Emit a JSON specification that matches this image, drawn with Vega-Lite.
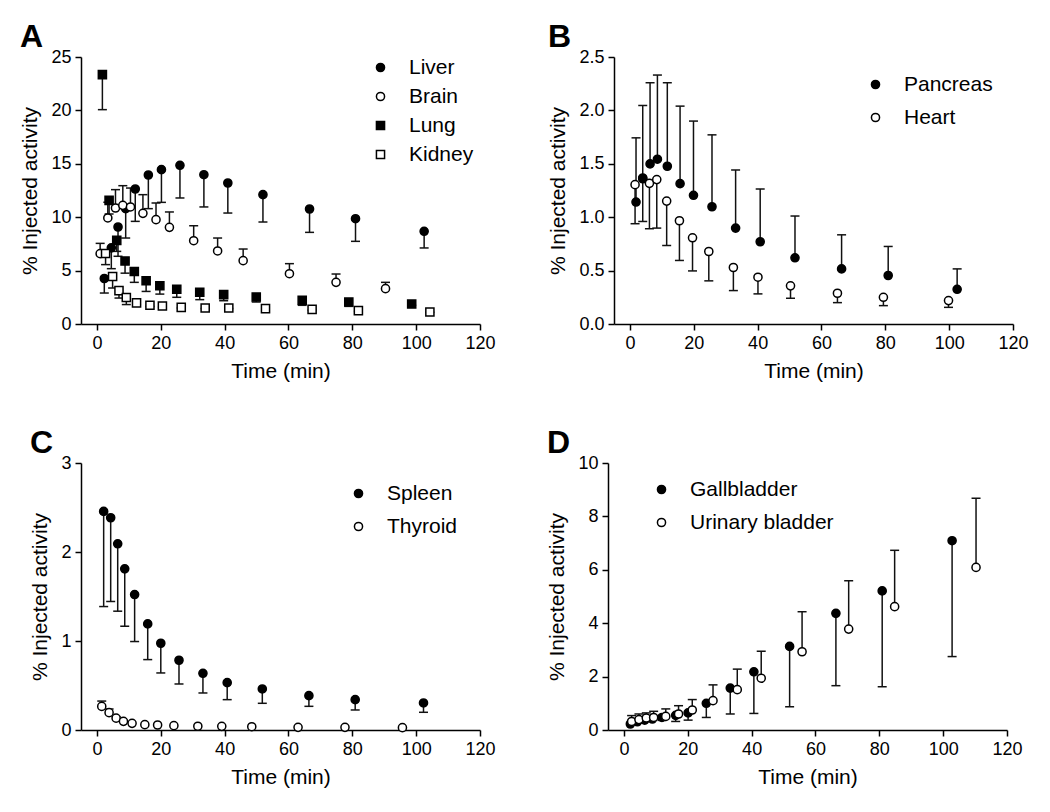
{
  "$schema": "https://vega.github.io/schema/vega-lite/v6.json",
  "background": "white",
  "padding": {"left": 19, "top": 21, "right": 5, "bottom": 5},
  "config": {
    "font": "Liberation Sans",
    "view": {"stroke": null},
    "axis": {
      "grid": false, "domainColor": "black", "domainWidth": 1.5, "tickColor": "black", "tickWidth": 1.5, "tickSize": 6,
      "labelFontSize": 18, "labelColor": "black", "labelPadding": 4, "labelFlush": false, "titleFontSize": 21, "titleFontWeight": "normal",
      "titleColor": "black", "titlePadding": 8
    },
    "axisY": {"titlePadding": 10},
    "title": {"fontSize": 32, "fontWeight": "bold", "color": "black", "anchor": "start", "frame": "bounds", "offset": -6},
    "legend": {"labelFontSize": 21, "labelColor": "black", "symbolSize": 66, "symbolStrokeWidth": 1.5, "labelOffset": 18}
  },
  "resolve": {"scale": {"shape": "independent", "fill": "independent", "stroke": "independent"}, "legend": {"shape": "independent", "fill": "independent", "stroke": "independent"}},
  "datasets": {
    "A": [
      {"organ": "Liver", "t": 2.3, "v": 4.26, "e": 2.9},
      {"organ": "Liver", "t": 4.5, "v": 7.13, "e": 5.18},
      {"organ": "Liver", "t": 6.6, "v": 9.08, "e": 6.34},
      {"organ": "Liver", "t": 9.0, "v": 10.8, "e": 8.05},
      {"organ": "Liver", "t": 12.0, "v": 12.64, "e": 9.61},
      {"organ": "Liver", "t": 16.1, "v": 13.95, "e": 10.8},
      {"organ": "Liver", "t": 20.2, "v": 14.45, "e": 11.39},
      {"organ": "Liver", "t": 26.0, "v": 14.86, "e": 11.8},
      {"organ": "Liver", "t": 33.5, "v": 13.98, "e": 10.96},
      {"organ": "Liver", "t": 41.0, "v": 13.2, "e": 10.39},
      {"organ": "Liver", "t": 52.0, "v": 12.11, "e": 9.55},
      {"organ": "Liver", "t": 66.6, "v": 10.77, "e": 8.58},
      {"organ": "Liver", "t": 81.0, "v": 9.86, "e": 7.74},
      {"organ": "Liver", "t": 102.5, "v": 8.68, "e": 7.12},
      {"organ": "Brain", "t": 1.0, "v": 6.59, "e": 7.55},
      {"organ": "Brain", "t": 3.4, "v": 9.93, "e": 11.4},
      {"organ": "Brain", "t": 5.8, "v": 10.86, "e": 12.58},
      {"organ": "Brain", "t": 8.1, "v": 11.11, "e": 12.95},
      {"organ": "Brain", "t": 10.5, "v": 10.96, "e": 12.73},
      {"organ": "Brain", "t": 14.4, "v": 10.36, "e": 12.11},
      {"organ": "Brain", "t": 18.5, "v": 9.77, "e": 11.33},
      {"organ": "Brain", "t": 22.7, "v": 9.05, "e": 10.49},
      {"organ": "Brain", "t": 30.3, "v": 7.8, "e": 9.2},
      {"organ": "Brain", "t": 37.8, "v": 6.84, "e": 8.05},
      {"organ": "Brain", "t": 45.8, "v": 5.93, "e": 7.02},
      {"organ": "Brain", "t": 60.3, "v": 4.71, "e": 5.65},
      {"organ": "Brain", "t": 74.9, "v": 3.9, "e": 4.68},
      {"organ": "Brain", "t": 90.4, "v": 3.31, "e": 3.9},
      {"organ": "Lung", "t": 1.7, "v": 23.35, "e": 20.07},
      {"organ": "Lung", "t": 3.8, "v": 11.58, "e": 10.3},
      {"organ": "Lung", "t": 6.2, "v": 7.83, "e": 6.8},
      {"organ": "Lung", "t": 8.8, "v": 5.9, "e": 4.76},
      {"organ": "Lung", "t": 11.7, "v": 4.92, "e": 3.9},
      {"organ": "Lung", "t": 15.4, "v": 4.05, "e": 3.05},
      {"organ": "Lung", "t": 19.7, "v": 3.58, "e": 2.8},
      {"organ": "Lung", "t": 25.0, "v": 3.25, "e": 2.5},
      {"organ": "Lung", "t": 32.2, "v": 2.97, "e": 2.28},
      {"organ": "Lung", "t": 39.7, "v": 2.75, "e": 2.18},
      {"organ": "Lung", "t": 49.9, "v": 2.53, "e": 2.06},
      {"organ": "Lung", "t": 64.3, "v": 2.22, "e": 1.75},
      {"organ": "Lung", "t": 78.9, "v": 2.06, "e": 1.65},
      {"organ": "Lung", "t": 98.6, "v": 1.87, "e": 1.75},
      {"organ": "Kidney", "t": 2.7, "v": 6.6, "e": 5.56},
      {"organ": "Kidney", "t": 4.9, "v": 4.45, "e": 3.37},
      {"organ": "Kidney", "t": 6.9, "v": 3.12, "e": 2.43},
      {"organ": "Kidney", "t": 9.2, "v": 2.48, "e": 1.82},
      {"organ": "Kidney", "t": 12.4, "v": 1.98, "e": 1.8},
      {"organ": "Kidney", "t": 16.6, "v": 1.76, "e": 1.65},
      {"organ": "Kidney", "t": 20.5, "v": 1.68, "e": 1.58},
      {"organ": "Kidney", "t": 26.4, "v": 1.56, "e": 1.5},
      {"organ": "Kidney", "t": 33.9, "v": 1.5, "e": 1.45},
      {"organ": "Kidney", "t": 41.3, "v": 1.5, "e": 1.45},
      {"organ": "Kidney", "t": 52.8, "v": 1.44, "e": 1.4},
      {"organ": "Kidney", "t": 67.4, "v": 1.37, "e": 1.3},
      {"organ": "Kidney", "t": 81.9, "v": 1.25, "e": 1.2},
      {"organ": "Kidney", "t": 104.3, "v": 1.12, "e": 1.1}
    ],
    "B": [
      {"organ": "Heart", "t": 1.6, "v": 1.305, "e": 0.939},
      {"organ": "Heart", "t": 4.0, "v": 1.36, "e": 0.96},
      {"organ": "Heart", "t": 6.1, "v": 1.317, "e": 0.892},
      {"organ": "Heart", "t": 8.4, "v": 1.352, "e": 0.898},
      {"organ": "Heart", "t": 11.5, "v": 1.151, "e": 0.735},
      {"organ": "Heart", "t": 15.5, "v": 0.967, "e": 0.595},
      {"organ": "Heart", "t": 19.6, "v": 0.807, "e": 0.497},
      {"organ": "Heart", "t": 24.7, "v": 0.679, "e": 0.404},
      {"organ": "Heart", "t": 32.4, "v": 0.529, "e": 0.313},
      {"organ": "Heart", "t": 40.1, "v": 0.438, "e": 0.282},
      {"organ": "Heart", "t": 50.3, "v": 0.357, "e": 0.241},
      {"organ": "Heart", "t": 65.0, "v": 0.288, "e": 0.2},
      {"organ": "Heart", "t": 79.4, "v": 0.25, "e": 0.172},
      {"organ": "Heart", "t": 99.8, "v": 0.219, "e": 0.156},
      {"organ": "Pancreas", "t": 1.9, "v": 1.142, "e": 1.743},
      {"organ": "Pancreas", "t": 4.0, "v": 1.367, "e": 2.046},
      {"organ": "Pancreas", "t": 6.3, "v": 1.499, "e": 2.259},
      {"organ": "Pancreas", "t": 8.6, "v": 1.543, "e": 2.331},
      {"organ": "Pancreas", "t": 11.7, "v": 1.477, "e": 2.259},
      {"organ": "Pancreas", "t": 15.7, "v": 1.314, "e": 2.04},
      {"organ": "Pancreas", "t": 19.9, "v": 1.205, "e": 1.9},
      {"organ": "Pancreas", "t": 25.7, "v": 1.098, "e": 1.771},
      {"organ": "Pancreas", "t": 33.1, "v": 0.898, "e": 1.442},
      {"organ": "Pancreas", "t": 40.8, "v": 0.77, "e": 1.264},
      {"organ": "Pancreas", "t": 51.7, "v": 0.62, "e": 1.011},
      {"organ": "Pancreas", "t": 66.3, "v": 0.516, "e": 0.835},
      {"organ": "Pancreas", "t": 80.9, "v": 0.454, "e": 0.726},
      {"organ": "Pancreas", "t": 102.5, "v": 0.325, "e": 0.516}
    ],
    "C": [
      {"organ": "Spleen", "t": 2.1, "v": 2.456, "e": 1.387},
      {"organ": "Spleen", "t": 4.3, "v": 2.385, "e": 1.444},
      {"organ": "Spleen", "t": 6.5, "v": 2.092, "e": 1.335},
      {"organ": "Spleen", "t": 8.7, "v": 1.811, "e": 1.166},
      {"organ": "Spleen", "t": 11.8, "v": 1.522, "e": 0.994},
      {"organ": "Spleen", "t": 15.9, "v": 1.192, "e": 0.791},
      {"organ": "Spleen", "t": 20.0, "v": 0.975, "e": 0.641},
      {"organ": "Spleen", "t": 25.7, "v": 0.784, "e": 0.517},
      {"organ": "Spleen", "t": 33.2, "v": 0.637, "e": 0.416},
      {"organ": "Spleen", "t": 40.8, "v": 0.532, "e": 0.341},
      {"organ": "Spleen", "t": 51.8, "v": 0.461, "e": 0.3},
      {"organ": "Spleen", "t": 66.4, "v": 0.386, "e": 0.266},
      {"organ": "Spleen", "t": 80.9, "v": 0.341, "e": 0.225},
      {"organ": "Spleen", "t": 102.3, "v": 0.304, "e": 0.199},
      {"organ": "Thyroid", "t": 1.5, "v": 0.265, "e": 0.325},
      {"organ": "Thyroid", "t": 3.8, "v": 0.195, "e": 0.236},
      {"organ": "Thyroid", "t": 6.0, "v": 0.133, "e": 0.15},
      {"organ": "Thyroid", "t": 8.3, "v": 0.097, "e": 0.105},
      {"organ": "Thyroid", "t": 11.0, "v": 0.075, "e": null},
      {"organ": "Thyroid", "t": 15.0, "v": 0.06, "e": null},
      {"organ": "Thyroid", "t": 19.0, "v": 0.056, "e": null},
      {"organ": "Thyroid", "t": 24.1, "v": 0.049, "e": null},
      {"organ": "Thyroid", "t": 31.6, "v": 0.042, "e": null},
      {"organ": "Thyroid", "t": 39.1, "v": 0.041, "e": null},
      {"organ": "Thyroid", "t": 48.5, "v": 0.037, "e": null},
      {"organ": "Thyroid", "t": 63.0, "v": 0.03, "e": null},
      {"organ": "Thyroid", "t": 77.7, "v": 0.03, "e": null},
      {"organ": "Thyroid", "t": 95.7, "v": 0.026, "e": null}
    ],
    "D": [
      {"organ": "Gallbladder", "t": 2.0, "v": 0.225, "e": null},
      {"organ": "Gallbladder", "t": 4.2, "v": 0.31, "e": null},
      {"organ": "Gallbladder", "t": 6.5, "v": 0.37, "e": null},
      {"organ": "Gallbladder", "t": 8.9, "v": 0.41, "e": null},
      {"organ": "Gallbladder", "t": 11.9, "v": 0.47, "e": 0.36},
      {"organ": "Gallbladder", "t": 16.2, "v": 0.55, "e": 0.32},
      {"organ": "Gallbladder", "t": 20.1, "v": 0.64, "e": 0.37},
      {"organ": "Gallbladder", "t": 25.8, "v": 1.0, "e": 0.47},
      {"organ": "Gallbladder", "t": 33.3, "v": 1.57, "e": 0.6},
      {"organ": "Gallbladder", "t": 40.7, "v": 2.18, "e": 0.62},
      {"organ": "Gallbladder", "t": 51.9, "v": 3.13, "e": 0.87},
      {"organ": "Gallbladder", "t": 66.4, "v": 4.37, "e": 1.66},
      {"organ": "Gallbladder", "t": 80.9, "v": 5.21, "e": 1.62},
      {"organ": "Gallbladder", "t": 102.8, "v": 7.09, "e": 2.75},
      {"organ": "Urinary bladder", "t": 2.4, "v": 0.32, "e": 0.54},
      {"organ": "Urinary bladder", "t": 4.7, "v": 0.39, "e": 0.6},
      {"organ": "Urinary bladder", "t": 7.0, "v": 0.45, "e": 0.64},
      {"organ": "Urinary bladder", "t": 9.3, "v": 0.47, "e": 0.7},
      {"organ": "Urinary bladder", "t": 13.1, "v": 0.51, "e": 0.79},
      {"organ": "Urinary bladder", "t": 17.1, "v": 0.6, "e": 0.91},
      {"organ": "Urinary bladder", "t": 21.4, "v": 0.75, "e": 1.14},
      {"organ": "Urinary bladder", "t": 27.9, "v": 1.1, "e": 1.69},
      {"organ": "Urinary bladder", "t": 35.5, "v": 1.51, "e": 2.28},
      {"organ": "Urinary bladder", "t": 43.0, "v": 1.94, "e": 2.95},
      {"organ": "Urinary bladder", "t": 55.8, "v": 2.93, "e": 4.43},
      {"organ": "Urinary bladder", "t": 70.4, "v": 3.78, "e": 5.59},
      {"organ": "Urinary bladder", "t": 84.8, "v": 4.62, "e": 6.73},
      {"organ": "Urinary bladder", "t": 110.3, "v": 6.09, "e": 8.68}
    ]
  },
  "vconcat": [
    {
      "spacing": 51,
      "resolve": {"scale": {"shape": "independent", "fill": "independent", "stroke": "independent"}, "legend": {"shape": "independent", "fill": "independent", "stroke": "independent"}},
      "hconcat": [
        {
          "title": {"text": "A"},
          "width": 399, "height": 267,
          "data": {"name": "A"},
          "layer": [
            {
              "transform": [{"filter": "datum.e != null"}],
              "mark": {"type": "rule", "color": "#111", "strokeWidth": 1.5},
              "encoding": {
                "x": {"field": "t", "type": "quantitative", "title": "Time (min)", "scale": {"domain": [-5, 120], "nice": false, "zero": false}, "axis": {"values": [0, 20, 40, 60, 80, 100, 120]}},
                "y": {"field": "v", "type": "quantitative", "title": "% Injected activity", "scale": {"domain": [0, 25], "nice": false}, "axis": {"values": [0, 5, 10, 15, 20, 25], "format": "d"}},
                "y2": {"field": "e"}
              }
            },
            {
              "transform": [{"filter": "datum.e != null"}],
              "mark": {"type": "tick", "orient": "horizontal", "size": 9, "thickness": 1.5, "color": "#111", "opacity": 1},
              "encoding": {
                "x": {"field": "t", "type": "quantitative", "title": "Time (min)"},
                "y": {"field": "e", "type": "quantitative", "title": "% Injected activity"}
              }
            },
            {
              "mark": {"type": "point", "filled": true, "size": 66, "strokeWidth": 1.5, "opacity": 1},
              "encoding": {
                "x": {"field": "t", "type": "quantitative", "title": "Time (min)"},
                "y": {"field": "v", "type": "quantitative", "title": "% Injected activity"},
                "shape": {"field": "organ", "type": "nominal", "scale": {"domain": ["Liver", "Brain", "Lung", "Kidney"], "range": ["circle", "circle", "square", "square"]}, "legend": {"orient": "none", "legendX": 289, "legendY": 0, "title": null, "rowPadding": 7}},
                "fill": {"field": "organ", "type": "nominal", "scale": {"domain": ["Liver", "Brain", "Lung", "Kidney"], "range": ["black", "white", "black", "white"]}, "legend": {"orient": "none", "legendX": 289, "legendY": 0, "title": null, "rowPadding": 7}},
                "stroke": {"field": "organ", "type": "nominal", "scale": {"domain": ["Liver", "Brain", "Lung", "Kidney"], "range": ["black", "black", "black", "black"]}, "legend": {"orient": "none", "legendX": 289, "legendY": 0, "title": null, "rowPadding": 7}}
              }
            }
          ]
        },
        {
          "title": {"text": "B"},
          "width": 399, "height": 267,
          "data": {"name": "B"},
          "layer": [
            {
              "transform": [{"filter": "datum.e != null"}],
              "mark": {"type": "rule", "color": "#111", "strokeWidth": 1.5},
              "encoding": {
                "x": {"field": "t", "type": "quantitative", "title": "Time (min)", "scale": {"domain": [-5, 120], "nice": false, "zero": false}, "axis": {"values": [0, 20, 40, 60, 80, 100, 120]}},
                "y": {"field": "v", "type": "quantitative", "title": "% Injected activity", "scale": {"domain": [0, 2.5], "nice": false}, "axis": {"values": [0, 0.5, 1, 1.5, 2, 2.5], "format": ".1f"}},
                "y2": {"field": "e"}
              }
            },
            {
              "transform": [{"filter": "datum.e != null"}],
              "mark": {"type": "tick", "orient": "horizontal", "size": 9, "thickness": 1.5, "color": "#111", "opacity": 1},
              "encoding": {
                "x": {"field": "t", "type": "quantitative", "title": "Time (min)"},
                "y": {"field": "e", "type": "quantitative", "title": "% Injected activity"}
              }
            },
            {
              "mark": {"type": "point", "filled": true, "size": 66, "strokeWidth": 1.5, "opacity": 1},
              "encoding": {
                "x": {"field": "t", "type": "quantitative", "title": "Time (min)"},
                "y": {"field": "v", "type": "quantitative", "title": "% Injected activity"},
                "shape": {"field": "organ", "type": "nominal", "scale": {"domain": ["Pancreas", "Heart"], "range": ["circle", "circle"]}, "legend": {"orient": "none", "legendX": 251, "legendY": 17, "title": null, "rowPadding": 11}},
                "fill": {"field": "organ", "type": "nominal", "scale": {"domain": ["Pancreas", "Heart"], "range": ["black", "white"]}, "legend": {"orient": "none", "legendX": 251, "legendY": 17, "title": null, "rowPadding": 11}},
                "stroke": {"field": "organ", "type": "nominal", "scale": {"domain": ["Pancreas", "Heart"], "range": ["black", "black"]}, "legend": {"orient": "none", "legendX": 251, "legendY": 17, "title": null, "rowPadding": 11}}
              }
            }
          ]
        }
      ]
    },
    {
      "spacing": 50,
      "resolve": {"scale": {"shape": "independent", "fill": "independent", "stroke": "independent"}, "legend": {"shape": "independent", "fill": "independent", "stroke": "independent"}},
      "hconcat": [
        {
          "title": {"text": "C"},
          "width": 399, "height": 267,
          "data": {"name": "C"},
          "layer": [
            {
              "transform": [{"filter": "datum.e != null"}],
              "mark": {"type": "rule", "color": "#111", "strokeWidth": 1.5},
              "encoding": {
                "x": {"field": "t", "type": "quantitative", "title": "Time (min)", "scale": {"domain": [-5, 120], "nice": false, "zero": false}, "axis": {"values": [0, 20, 40, 60, 80, 100, 120]}},
                "y": {"field": "v", "type": "quantitative", "title": "% Injected activity", "scale": {"domain": [0, 3], "nice": false}, "axis": {"values": [0, 1, 2, 3], "format": "d"}},
                "y2": {"field": "e"}
              }
            },
            {
              "transform": [{"filter": "datum.e != null"}],
              "mark": {"type": "tick", "orient": "horizontal", "size": 9, "thickness": 1.5, "color": "#111", "opacity": 1},
              "encoding": {
                "x": {"field": "t", "type": "quantitative", "title": "Time (min)"},
                "y": {"field": "e", "type": "quantitative", "title": "% Injected activity"}
              }
            },
            {
              "mark": {"type": "point", "filled": true, "size": 66, "strokeWidth": 1.5, "opacity": 1},
              "encoding": {
                "x": {"field": "t", "type": "quantitative", "title": "Time (min)"},
                "y": {"field": "v", "type": "quantitative", "title": "% Injected activity"},
                "shape": {"field": "organ", "type": "nominal", "scale": {"domain": ["Spleen", "Thyroid"], "range": ["circle", "circle"]}, "legend": {"orient": "none", "legendX": 267, "legendY": 20, "title": null, "rowPadding": 11}},
                "fill": {"field": "organ", "type": "nominal", "scale": {"domain": ["Spleen", "Thyroid"], "range": ["black", "white"]}, "legend": {"orient": "none", "legendX": 267, "legendY": 20, "title": null, "rowPadding": 11}},
                "stroke": {"field": "organ", "type": "nominal", "scale": {"domain": ["Spleen", "Thyroid"], "range": ["black", "black"]}, "legend": {"orient": "none", "legendX": 267, "legendY": 20, "title": null, "rowPadding": 11}}
              }
            }
          ]
        },
        {
          "title": {"text": "D"},
          "width": 399, "height": 267,
          "data": {"name": "D"},
          "layer": [
            {
              "transform": [{"filter": "datum.e != null"}],
              "mark": {"type": "rule", "color": "#111", "strokeWidth": 1.5},
              "encoding": {
                "x": {"field": "t", "type": "quantitative", "title": "Time (min)", "scale": {"domain": [-5, 120], "nice": false, "zero": false}, "axis": {"values": [0, 20, 40, 60, 80, 100, 120]}},
                "y": {"field": "v", "type": "quantitative", "title": "% Injected activity", "scale": {"domain": [0, 10], "nice": false}, "axis": {"values": [0, 2, 4, 6, 8, 10], "format": "d"}},
                "y2": {"field": "e"}
              }
            },
            {
              "transform": [{"filter": "datum.e != null"}],
              "mark": {"type": "tick", "orient": "horizontal", "size": 9, "thickness": 1.5, "color": "#111", "opacity": 1},
              "encoding": {
                "x": {"field": "t", "type": "quantitative", "title": "Time (min)"},
                "y": {"field": "e", "type": "quantitative", "title": "% Injected activity"}
              }
            },
            {
              "mark": {"type": "point", "filled": true, "size": 66, "strokeWidth": 1.5, "opacity": 1},
              "encoding": {
                "x": {"field": "t", "type": "quantitative", "title": "Time (min)"},
                "y": {"field": "v", "type": "quantitative", "title": "% Injected activity"},
                "shape": {"field": "organ", "type": "nominal", "scale": {"domain": ["Gallbladder", "Urinary bladder"], "range": ["circle", "circle"]}, "legend": {"orient": "none", "legendX": 43, "legendY": 16, "title": null, "rowPadding": 11}},
                "fill": {"field": "organ", "type": "nominal", "scale": {"domain": ["Gallbladder", "Urinary bladder"], "range": ["black", "white"]}, "legend": {"orient": "none", "legendX": 43, "legendY": 16, "title": null, "rowPadding": 11}},
                "stroke": {"field": "organ", "type": "nominal", "scale": {"domain": ["Gallbladder", "Urinary bladder"], "range": ["black", "black"]}, "legend": {"orient": "none", "legendX": 43, "legendY": 16, "title": null, "rowPadding": 11}}
              }
            }
          ]
        }
      ]
    }
  ],
  "spacing": 46
}
